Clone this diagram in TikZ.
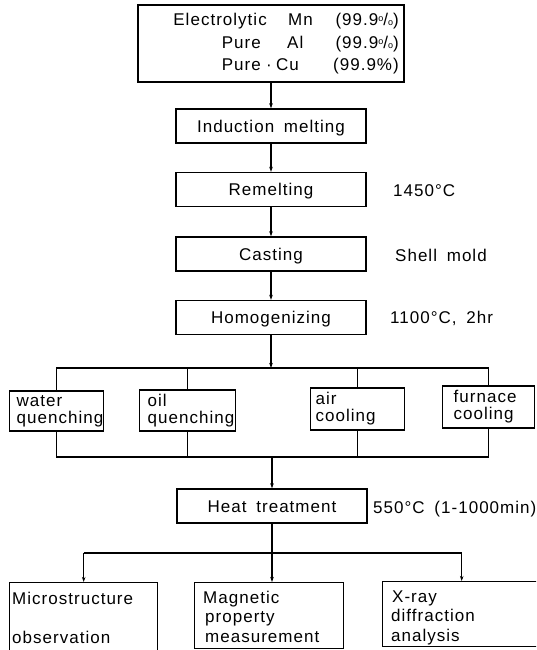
\documentclass[tikz,border=0pt]{standalone}
\usepackage{fontspec}
\setmainfont{Liberation Sans}[LetterSpace=6,WordSpace=1.7]
\usetikzlibrary{arrows.meta,calc}
\newcommand\mypct{\raisebox{4pt}{\fontsize{9}{9}\selectfont o}/{\fontsize{9}{9}\selectfont o}}
\begin{document}
\begin{tikzpicture}[x=1pt,y=-1pt,
  every node/.style={font=\fontsize{17}{17}\selectfont},
  box/.style={draw, line width=1.4pt, inner sep=0pt, text height=14.5pt, text depth=2.5pt, minimum height=34pt, minimum width=190pt},
  qbox/.style={draw, line width=1.4pt, inner ysep=0pt, align=left, anchor=west},
  txt/.style={inner sep=0pt},
  conn/.style={line width=1.1pt},
  arr/.style={conn, -{Stealth[length=5pt,width=3.5pt]}}]
\useasboundingbox (0,0) rectangle (536,650);
\clip (0,0) rectangle (536,650);

% top box
\node[box, minimum width=266pt, minimum height=77pt] (top) at (271,43.5) {};
\node[txt, anchor=base east] (t1a) at (267,26) {Electrolytic};
\node[txt, anchor=base west] (t1b) at (288,26) {Mn};
\node[txt, anchor=base east] (t1c) at (399,26) {(99.9\mypct)};
\node[txt, anchor=base east] (t2a) at (261,49) {Pure};
\node[txt, anchor=base west] (t2b) at (287,49) {Al};
\node[txt, anchor=base east] (t2c) at (399,49) {(99.9\mypct)};
\node[txt, anchor=base east] (t3a) at (261,71) {Pure};
\node[txt, anchor=base] (t3b) at (269,71) {·};
\node[txt, anchor=base west] (t3c) at (276,71) {Cu};
\node[txt, anchor=base east] (t3d) at (399,71) {(99.9\%)};

% main column
\node[box] (ind) at (271,126) {Induction melting};
\node[box] (rem) at (271,189.5) {Remelting};
\node[box] (cas) at (271,254) {Casting};
\node[box] (hom) at (271,317.5) {Homogenizing};

\node[txt, anchor=base west] (l1) at (393,196) {1450°C};
\node[txt, anchor=base west] (l2) at (395,261) {Shell mold};
\node[txt, anchor=base west] (l3) at (390,323) {1100°C, 2hr};

\draw[arr] (top.south) -- (ind.north);
\draw[arr] (ind.south) -- (rem.north);
\draw[arr] (rem.south) -- (cas.north);
\draw[arr] (cas.south) -- (hom.north);

% quenching boxes
\node[qbox, inner xsep=7pt, text width=80pt, minimum height=40pt] (wq) at (9,411) {water\\quenching};
\node[qbox, inner xsep=8pt, text width=80pt, minimum height=41pt] (oq) at (139,410.5) {oil\\quenching};
\node[qbox, inner xsep=5pt, text width=84pt, minimum height=42pt] (ac) at (310,409) {air\\cooling};
\node[qbox, inner xsep=11pt, text width=70pt, minimum height=42pt] (fc) at (442,407) {furnace\\cooling};

\coordinate (upbar) at (271,368);
\coordinate (lobar) at (272,457);
\draw[arr] (hom.south) -- (upbar);
\draw[conn] (wq.north) -- (wq.north |- upbar) -- (fc.north |- upbar) -- (fc.north);
\draw[conn] (oq.north) -- (oq.north |- upbar);
\draw[conn] (ac.north) -- (ac.north |- upbar);
\draw[conn] (wq.south) -- (wq.south |- lobar) -- (fc.south |- lobar) -- (fc.south);
\draw[conn] (oq.south) -- (oq.south |- lobar);
\draw[conn] (ac.south) -- (ac.south |- lobar);

% heat treatment
\node[box] (heat) at (272,506) {Heat treatment};
\node[txt, anchor=base west] (l4) at (373,513) {550°C (1-1000min)};
\draw[arr] (lobar) -- (heat.north);

% bottom boxes
\node[box, anchor=north west, minimum width=148pt, minimum height=80pt] (ms) at (9,582) {};
\node[box, anchor=north west, minimum width=149pt, minimum height=66pt] (mg) at (194,582) {};
\node[box, anchor=north west, minimum width=158pt, minimum height=65pt] (xr) at (382,581) {};
\node[txt, anchor=base west] (ms1) at (12,604) {Microstructure};
\node[txt, anchor=base west] (ms2) at (12,643) {observation};
\node[txt, anchor=base west] (mg1) at (203,603) {Magnetic};
\node[txt, anchor=base west] (mg2) at (205,622.5) {property};
\node[txt, anchor=base west] (mg3) at (205,642) {measurement};
\node[txt, anchor=base west] (xr1) at (392,602) {X-ray};
\node[txt, anchor=base west] (xr2) at (391,621.5) {diffraction};
\node[txt, anchor=base west] (xr3) at (391,641) {analysis};

\coordinate (btbar) at (272,553);
\draw[conn] (heat.south) -- (btbar);
\draw[conn] (ms.north |- btbar) -- (xr.north |- btbar);
\draw[arr] (btbar) -- (btbar |- mg.north);
\draw[arr] (ms.north |- btbar) -- (ms.north);
\draw[arr] (xr.north |- btbar) -- (xr.north);
\end{tikzpicture}
\end{document}
